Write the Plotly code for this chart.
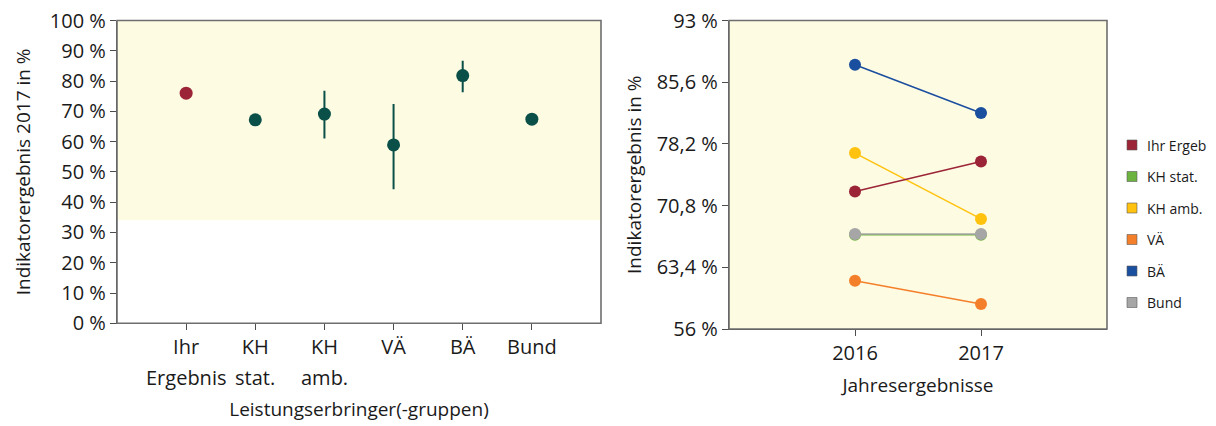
import plotly.graph_objects as go

# ---- data: left chart (2017 results by provider group) ----
groups_line1 = ["Ihr", "KH", "KH", "VÄ", "BÄ", "Bund"]
groups_line2 = ["Ergebnis", "stat.", "amb.", "", "", ""]
values_2017 = [76.0, 67.2, 69.1, 58.9, 81.8, 67.4]
ci_upper = [None, None, 76.8, 72.4, 86.7, None]
ci_lower = [None, None, 61.0, 44.3, 76.3, None]
ref_lower = 34.0   # lower bound of shaded reference range
ref_upper = 100.0
left_yticks = [0, 10, 20, 30, 40, 50, 60, 70, 80, 90, 100]

# ---- data: right chart (yearly results) ----
years = [2016, 2017]
series_names = ["Ihr Ergeb", "KH stat.", "KH amb.", "VÄ", "BÄ", "Bund"]
series_values = {
    "Ihr Ergeb": [72.5, 76.1],
    "KH stat.": [67.3, 67.3],
    "KH amb.": [77.1, 69.2],
    "VÄ": [61.8, 59.0],
    "BÄ": [87.7, 81.9],
    "Bund": [67.4, 67.4],
}
right_yticks = [56, 63.4, 70.8, 78.2, 85.6, 93]

colors = {
    "Ihr Ergeb": "#9B2436",
    "KH stat.": "#6DB33F",
    "KH amb.": "#FFC20E",
    "VÄ": "#F47F2A",
    "BÄ": "#1A4E9E",
    "Bund": "#A6A6A6",
}
teal = "#0A5049"
font_family = "Open Sans, DejaVu Sans, sans-serif"
txt = "#1A1A1A"
W, H = 1216, 426
OFF = 8  # page body margin offset of the plot div


def px(X):
    return (X - OFF) / W


def py(Y):
    return 1 - (Y - OFF) / H


fig = go.Figure()

# left chart points
x_idx = list(range(len(groups_line1)))
pt_colors = [colors["Ihr Ergeb"]] + [teal] * 5
err_plus = [(u - v) if u is not None else 0 for u, v in zip(ci_upper, values_2017)]
err_minus = [(v - l) if l is not None else 0 for l, v in zip(ci_lower, values_2017)]
fig.add_trace(go.Scatter(
    x=x_idx, y=values_2017, mode="markers",
    marker=dict(color=pt_colors, size=13),
    error_y=dict(type="data", array=err_plus, arrayminus=err_minus,
                 color=teal, thickness=2, width=0),
    xaxis="x", yaxis="y", showlegend=False, hoverinfo="skip"))

# right chart lines (green first so grey covers it)
order = ["KH stat.", "Bund", "VÄ", "KH amb.", "Ihr Ergeb", "BÄ"]
for name in order:
    fig.add_trace(go.Scatter(
        x=years, y=series_values[name], mode="lines+markers",
        line=dict(color=colors[name], width=1.5),
        marker=dict(color=colors[name], size=12),
        xaxis="x2", yaxis="y2", showlegend=False, hoverinfo="skip"))

# shaded reference range on left chart
fig.add_shape(type="rect", xref="x domain", yref="y", x0=0, x1=1,
              y0=ref_lower, y1=ref_upper, fillcolor="#FEFBE3", line_width=0,
              layer="below")
# right chart background
fig.add_shape(type="rect", xref="x2 domain", yref="y2 domain", x0=0, x1=1, y0=0, y1=1,
              fillcolor="#FEFBE3", line_width=0, layer="below")
# frames
for xr, yr in (("x domain", "y domain"), ("x2 domain", "y2 domain")):
    fig.add_shape(type="rect", xref=xr, yref=yr, x0=0, x1=1, y0=0, y1=1,
                  line=dict(color="#6E6E6E", width=1.6))

# second line of left category labels
for i, t in zip(x_idx, groups_line2):
    if t:
        fig.add_annotation(x=i, y=py(377), xref="x", yref="paper", text=t,
                           showarrow=False, yanchor="middle",
                           font=dict(size=20, color=txt, family=font_family))

# custom legend (square swatches + labels)
leg_y0, leg_dy = 145, 31.5
for k, name in enumerate(series_names):
    yc = py(leg_y0 + k * leg_dy)
    fig.add_shape(type="rect", xref="paper", yref="paper",
                  x0=px(1127), x1=px(1137), y0=yc - 5/H, y1=yc + 5/H,
                  fillcolor=colors[name], line=dict(color="#5A5A5A", width=0.6))
    fig.add_annotation(x=px(1145), y=yc, xref="paper", yref="paper", text=name,
                       showarrow=False, xanchor="left", yanchor="middle",
                       font=dict(size=14, color=txt, family=font_family))

axis_common = dict(showgrid=False, zeroline=False, showline=True, linecolor="#4D4D4D",
                   linewidth=1.2, ticks="outside", ticklen=6, tickcolor="#4D4D4D",
                   automargin=False, ticklabeloverflow="allow",
                   tickfont=dict(size=20, color=txt, family=font_family))

fig.update_layout(
    width=W, height=H,
    margin=dict(l=0, r=0, t=0, b=0, autoexpand=False),
    paper_bgcolor="white", plot_bgcolor="white",
    font=dict(family=font_family, color=txt),
    showlegend=False,
    xaxis=dict(domain=[px(117), px(601)], anchor="y", range=[-1, 6],
               tickvals=x_idx, ticktext=groups_line1,
               title=dict(text="Leistungserbringer(-gruppen)", font=dict(size=19, color=txt),
                          standoff=43),
               **axis_common),
    yaxis=dict(domain=[py(323.3), py(20.5)], anchor="x", range=[0, 100],
               tickvals=left_yticks, ticktext=[f"{v} %" for v in left_yticks],
               title=dict(text="Indikatorergebnis 2017 in %", font=dict(size=19, color=txt),
                          standoff=14),
               **axis_common),
    xaxis2=dict(domain=[px(729), px(1107)], anchor="y2", range=[2015, 2018],
                tickvals=years, ticktext=[str(y) for y in years],
                title=dict(text="Jahresergebnisse", font=dict(size=19, color=txt), standoff=13),
                **axis_common),
    yaxis2=dict(domain=[py(329), py(20.5)], anchor="x2", range=[56, 93],
                tickvals=right_yticks,
                ticktext=[(f"{v:g} %").replace(".", ",") for v in right_yticks],
                title=dict(text="Indikatorergebnis in %", font=dict(size=19, color=txt),
                           standoff=10),
                **axis_common),
)

fig.write_html("out.html")
